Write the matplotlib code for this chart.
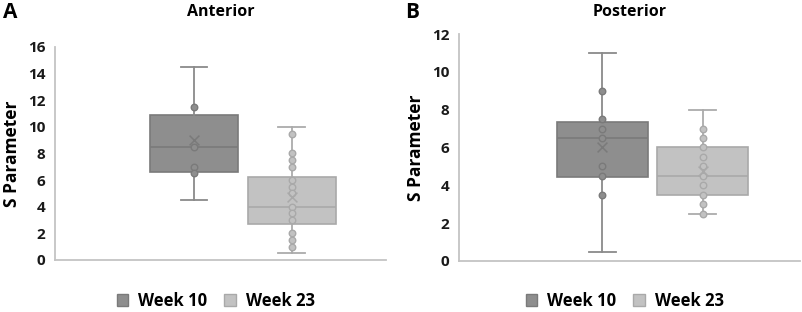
import matplotlib.pyplot as plt
from matplotlib.patches import Patch

plt.rcParams['font.family'] = ['Open Sans', 'DejaVu Sans']

# Estatísticas (mín, Q1, mediana, Q3, máx, média)
series = ['Week 10', 'Week 23']

ant_whislo = [4.5, 0.5]
ant_q1 = [6.6, 2.7]
ant_med = [8.5, 4.0]
ant_q3 = [10.9, 6.2]
ant_whishi = [14.5, 10.0]
ant_mean = [9.0, 4.75]
ant_pts_w10 = [11.5, 8.5, 7.0, 6.5]
ant_pts_w23 = [9.5, 8.0, 7.5, 7.0, 6.0, 5.5, 5.0, 4.0, 3.5, 3.0, 2.0, 1.5, 1.0]

post_whislo = [0.5, 2.5]
post_q1 = [4.45, 3.5]
post_med = [6.5, 4.5]
post_q3 = [7.35, 6.0]
post_whishi = [11.0, 8.0]
post_mean = [6.05, 4.75]
post_pts_w10 = [9.0, 7.5, 7.0, 6.5, 5.0, 4.5, 3.5]
post_pts_w23 = [7.0, 6.5, 6.0, 5.5, 5.0, 4.5, 4.0, 3.5, 3.0, 2.5]

ant_ticks = [0, 2, 4, 6, 8, 10, 12, 14, 16]
post_ticks = [0, 2, 4, 6, 8, 10, 12]

# Cores
fill = ['#8e8e8e', '#c2c2c2']
edge = ['#7a7a7a', '#a9a9a9']
line = ['#8a8a8a', '#ababab']


def painel(ax, whislo, q1, med, q3, whishi, mean, pontos, ticks, titulo, letra, letra_x):
    pos = [0.42, 0.715]
    for i in range(2):
        st = dict(whislo=whislo[i], q1=q1[i], med=med[i], q3=q3[i],
                  whishi=whishi[i], mean=mean[i], fliers=[])
        ax.bxp([st], positions=[pos[i]], widths=0.266, capwidths=0.08,
               patch_artist=True, showmeans=False, manage_ticks=False,
               boxprops=dict(facecolor=fill[i], edgecolor=edge[i], linewidth=1.2),
               medianprops=dict(color=edge[i], linewidth=1.2),
               whiskerprops=dict(color=line[i], linewidth=1.3),
               capprops=dict(color=line[i], linewidth=1.3))
        ax.scatter([pos[i]] * len(pontos[i]), pontos[i], s=22, facecolor=fill[i],
                   edgecolor=edge[i], linewidth=1.0, zorder=3)
        ax.scatter([pos[i]], [mean[i]], marker='x', s=50, color=edge[i],
                   linewidth=1.1, zorder=4)

    ax.set_xlim(0, 1)
    ax.set_ylim(0, ticks[-1])
    ax.set_yticks(ticks)
    ax.set_yticklabels([str(t) for t in ticks], fontsize=11, fontweight='bold',
                       color='#1a1a1a')
    ax.set_xticks([])
    ax.tick_params(axis='y', length=0, pad=7)
    for s in ['top', 'right']:
        ax.spines[s].set_visible(False)
    for s in ['left', 'bottom']:
        ax.spines[s].set_color('#c4c4c4')
        ax.spines[s].set_linewidth(1.3)
    ax.set_ylabel('S Parameter', fontsize=12.5, fontweight='bold', labelpad=5)

    bb = ax.get_position()
    cx = (bb.x0 + bb.x1) / 2
    fig = ax.figure
    fig.text(cx, 1 - 12 / 312, titulo, fontsize=11.5, fontweight='bold',
             ha='center', va='center')
    fig.text(letra_x, 1 - 13 / 312, letra, fontsize=15, fontweight='bold',
             ha='left', va='center')

    handles = [Patch(facecolor=fill[i], edgecolor=edge[i], label=series[i]) for i in range(2)]
    ax.legend(handles=handles, loc='center', bbox_to_anchor=(cx - 0.006, 1 - 301 / 312),
              bbox_transform=fig.transFigure, ncol=2, frameon=False,
              handlelength=0.7, handleheight=0.7, columnspacing=1.0,
              handletextpad=0.6, borderpad=0.1, prop=dict(size=12, weight='bold'))


fig = plt.figure(figsize=(8.03, 3.12), dpi=100)
axA = fig.add_axes([0.0685, 0.1667, 0.4122, 0.6827])
axB = fig.add_axes([0.5716, 0.1635, 0.4247, 0.7275])

painel(axA, ant_whislo, ant_q1, ant_med, ant_q3, ant_whishi, ant_mean,
       [ant_pts_w10, ant_pts_w23], ant_ticks, 'Anterior', 'A', 0.004)
painel(axB, post_whislo, post_q1, post_med, post_q3, post_whishi, post_mean,
       [post_pts_w10, post_pts_w23], post_ticks, 'Posterior', 'B', 0.505)

fig.savefig('out.png', dpi=100)
